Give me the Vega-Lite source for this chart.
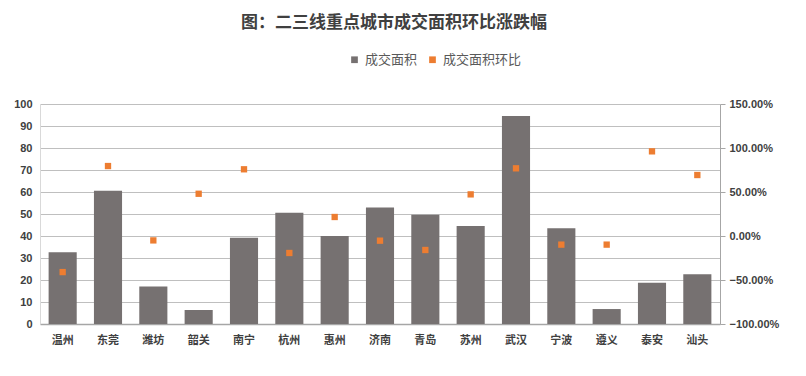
{
  "$schema": "https://vega.github.io/schema/vega-lite/v6.json",
  "width": 680,
  "height": 220,
  "autosize": {"type": "none"},
  "padding": {"left": 40, "top": 104, "right": 86, "bottom": 52},
  "background": "white",
  "title": {
    "text": "图：二三线重点城市成交面积环比涨跌幅",
    "fontSize": 17,
    "fontWeight": "bold",
    "color": "#404040",
    "font": "Noto Sans CJK SC",
    "anchor": "middle",
    "dx": 14,
    "offset": 21
  },
  "data": {
    "values": [
      {"city": "温州", "area": 32.6, "pct": -0.41},
      {"city": "东莞", "area": 60.6, "pct": 0.795},
      {"city": "潍坊", "area": 17.0, "pct": -0.05},
      {"city": "韶关", "area": 6.4, "pct": 0.48},
      {"city": "南宁", "area": 39.2, "pct": 0.758},
      {"city": "杭州", "area": 50.6, "pct": -0.193},
      {"city": "惠州", "area": 40.0, "pct": 0.216},
      {"city": "济南", "area": 53.0, "pct": -0.053},
      {"city": "青岛", "area": 49.7, "pct": -0.159},
      {"city": "苏州", "area": 44.5, "pct": 0.473},
      {"city": "武汉", "area": 94.5, "pct": 0.769},
      {"city": "宁波", "area": 43.5, "pct": -0.098},
      {"city": "遵义", "area": 6.8, "pct": -0.098},
      {"city": "泰安", "area": 18.8, "pct": 0.962},
      {"city": "汕头", "area": 22.6, "pct": 0.693}
    ]
  },
  "encoding": {
    "x": {
      "field": "city",
      "type": "nominal",
      "sort": null,
      "scale": {"paddingInner": 0.38, "paddingOuter": 0.19},
      "axis": {
        "title": null,
        "labelAngle": 0,
        "ticks": false,
        "labelPadding": 10,
        "labelFontSize": 11,
        "labelFont": "Noto Sans CJK SC",
        "labelFontWeight": "bold",
        "labelColor": "#404040",
        "domainColor": "#a6a6a6",
        "domainWidth": 1.5
      }
    }
  },
  "layer": [
    {
      "mark": {"type": "bar", "color": "#767171"},
      "encoding": {
        "y": {
          "field": "area",
          "type": "quantitative",
          "scale": {"domain": [0, 100], "nice": false},
          "axis": {
            "title": null,
            "orient": "left",
            "values": [0, 10, 20, 30, 40, 50, 60, 70, 80, 90, 100],
            "grid": true,
            "gridColor": "#bfbfbf",
            "gridWidth": 1,
            "ticks": false,
            "domain": true,
            "domainColor": "#d9d9d9",
            "labelFontSize": 11,
            "labelFont": "Liberation Sans",
            "labelFontWeight": "bold",
            "labelColor": "#404040",
            "labelPadding": 8
          }
        },
        "color": {"datum": "成交面积", "type": "nominal"}
      }
    },
    {
      "mark": {"type": "point", "shape": "square", "filled": true, "size": 40, "opacity": 1},
      "encoding": {
        "y": {
          "field": "pct",
          "type": "quantitative",
          "scale": {"domain": [-1, 1.5], "nice": false},
          "axis": {
            "title": null,
            "orient": "right",
            "values": [-1, -0.5, 0, 0.5, 1, 1.5],
            "format": ".2%",
            "grid": false,
            "ticks": true,
            "tickSize": 5,
            "tickColor": "#a6a6a6",
            "domainColor": "#a6a6a6",
            "labelFontSize": 11,
            "labelFont": "Liberation Sans",
            "labelFontWeight": "bold",
            "labelColor": "#404040",
            "labelPadding": 4
          }
        },
        "color": {"datum": "成交面积环比", "type": "nominal"}
      }
    }
  ],
  "resolve": {"scale": {"y": "independent"}},
  "config": {
    "view": {"stroke": null},
    "range": {"category": ["#767171", "#ED7D31"]},
    "legend": {
      "orient": "none",
      "legendX": 308,
      "legendY": -51,
      "direction": "horizontal",
      "title": null,
      "symbolType": "square",
      "symbolSize": 45,
      "labelFontSize": 13,
      "labelFont": "Noto Sans CJK SC",
      "labelColor": "#595959",
      "columnPadding": 8,
      "labelOffset": 4
    }
  }
}
